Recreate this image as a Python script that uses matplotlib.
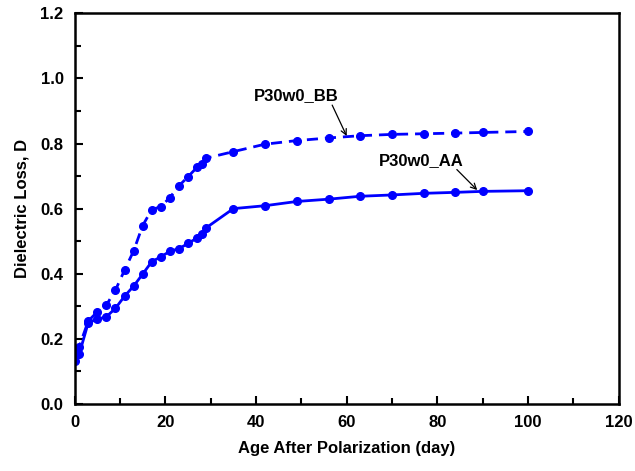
import matplotlib

matplotlib.use('Agg')

import matplotlib.pyplot as plt
from matplotlib.ticker import MultipleLocator

plt.rcParams['font.family'] = ['Liberation Sans', 'DejaVu Sans']
plt.rcParams['font.weight'] = 'bold'

# age after polarization (day)
days = [0, 1, 3, 5, 7, 9, 11, 13, 15, 17, 19, 21, 23, 25, 27, 28, 29,
        35, 42, 49, 56, 63, 70, 77, 84, 90, 100]

# dielectric loss
loss_aa = [0.132, 0.153, 0.250, 0.260, 0.268, 0.294, 0.331, 0.362, 0.399,
           0.437, 0.452, 0.469, 0.477, 0.493, 0.510, 0.522, 0.541,
           0.600, 0.609, 0.622, 0.629, 0.638, 0.642, 0.647, 0.650, 0.653, 0.655]
loss_bb = [0.160, 0.176, 0.255, 0.283, 0.304, 0.350, 0.411, 0.470, 0.548,
           0.597, 0.606, 0.634, 0.670, 0.698, 0.727, 0.737, 0.755,
           0.775, 0.798, 0.809, 0.817, 0.824, 0.828, 0.830, 0.832, 0.834, 0.837]

fig = plt.figure(figsize=(6.35, 4.71), dpi=100)
ax = fig.add_axes([0.1176, 0.1423, 0.8567, 0.8295])

ax.plot(days, loss_aa, '-o', color='#0000ff', lw=2.0, ms=5.5)
ax.plot(days, loss_bb, '--o', color='#0000ff', lw=2.0, ms=5.5, dashes=(4, 2.5))

arrow = dict(arrowstyle='->', color='black', lw=0.9, shrinkA=0, shrinkB=0)
ax.text(48.9, 0.947, 'P30w0_BB', ha='center', va='center',
        fontsize=12, fontweight='bold')
ax.annotate('', xy=(60, 0.823), xytext=(56.8, 0.918), arrowprops=arrow)
ax.text(76.4, 0.749, 'P30w0_AA', ha='center', va='center',
        fontsize=12, fontweight='bold')
ax.annotate('', xy=(88.8, 0.657), xytext=(84.3, 0.72), arrowprops=arrow)

ax.set_xlim(0, 120)
ax.set_ylim(0, 1.2)
ax.xaxis.set_major_locator(MultipleLocator(20))
ax.xaxis.set_minor_locator(MultipleLocator(10))
ax.yaxis.set_major_locator(MultipleLocator(0.2))
ax.yaxis.set_minor_locator(MultipleLocator(0.1))
ax.yaxis.set_major_formatter(plt.FormatStrFormatter('%.1f'))

ax.tick_params(which='both', direction='in', width=1.5, labelsize=12, pad=8)
ax.tick_params(which='major', length=6)
ax.tick_params(which='minor', length=4)
for s in ax.spines.values():
    s.set_linewidth(1.8)
for lab in ax.get_xticklabels() + ax.get_yticklabels():
    lab.set_fontweight('bold')

ax.set_xlabel('Age After Polarization (day)', fontsize=12, fontweight='bold', labelpad=8)
ax.set_ylabel('Dielectric Loss, D', fontsize=12, fontweight='bold', labelpad=8)

plt.savefig('out.png', dpi=100)
